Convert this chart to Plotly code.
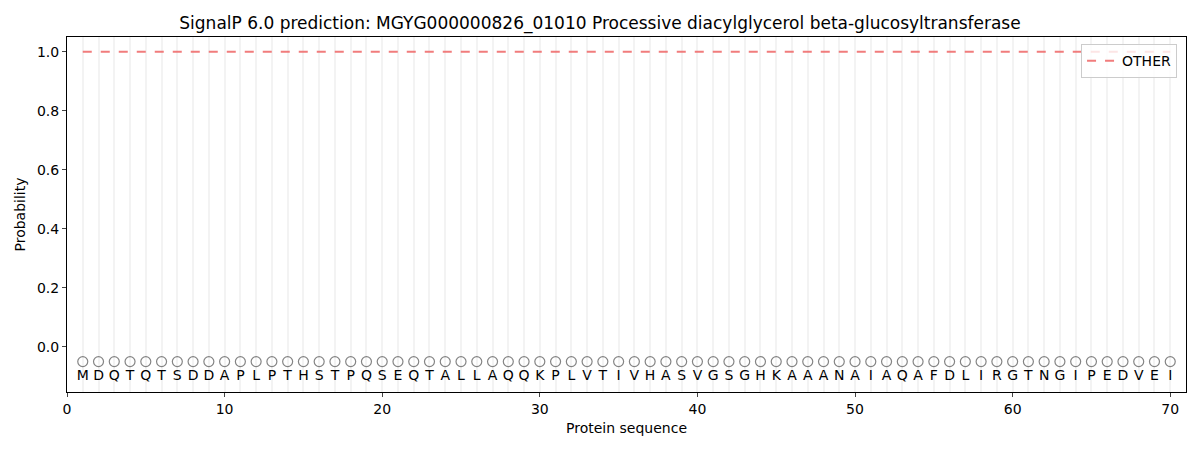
import plotly.graph_objects as go

sequence = list("MDQTQTSDDAPLPTHSTPQSEQTALLAQQKPLVTIVHASVGSGHKAAANAIAQAFDLIRGTNGIPEDVEI")
positions = list(range(1, len(sequence) + 1))
other_prob = [1.0] * len(sequence)
marker_y = [-0.05] * len(sequence)
letter_y = [-0.1] * len(sequence)

x_ticks = [0, 10, 20, 30, 40, 50, 60, 70]
y_ticks = [0.0, 0.2, 0.4, 0.6, 0.8, 1.0]

title = "SignalP 6.0 prediction: MGYG000000826_01010 Processive diacylglycerol beta-glucosyltransferase"

fig = go.Figure()

fig.add_trace(go.Scatter(
    x=positions, y=other_prob, mode="lines", name="OTHER",
    line=dict(color="rgba(240,110,110,0.9)", width=2, dash="dash"),
))
fig.add_trace(go.Scatter(
    x=positions, y=marker_y, mode="markers", showlegend=False,
    marker=dict(symbol="circle-open", size=10, color="rgba(110,110,110,0.85)", line=dict(width=1.2)),
))
fig.add_trace(go.Scatter(
    x=positions, y=letter_y, mode="text", text=sequence, showlegend=False,
    textfont=dict(family="DejaVu Sans", size=14, color="black"),
))

fig.update_layout(
    width=1200, height=450,
    margin=dict(l=67, r=14, t=37, b=58),
    paper_bgcolor="white", plot_bgcolor="white",
    font=dict(family="DejaVu Sans", size=14, color="black"),
    title=dict(text=title, x=0.5, xanchor="center", y=0.948, yanchor="middle",
               font=dict(size=17, color="black")),
    legend=dict(x=0.992, y=0.98, xanchor="right", yanchor="top",
                bgcolor="rgba(255,255,255,0.8)", bordercolor="#cccccc", borderwidth=1,
                font=dict(size=14)),
    showlegend=True,
)

fig.update_xaxes(
    range=[0, 71], tickmode="array", tickvals=x_ticks, ticks="outside", ticklen=4,
    showline=True, linecolor="black", mirror=True, linewidth=1, automargin=False,
    showgrid=True, gridcolor="#f3f3f3", gridwidth=2, zeroline=False,
    minor=dict(dtick=1, tick0=0, showgrid=True, gridcolor="#f3f3f3", gridwidth=2, ticks=""),
    title=dict(text="Protein sequence", font=dict(size=14), standoff=7),
)
fig.update_yaxes(
    range=[-0.153, 1.05], tickmode="array", tickvals=y_ticks, ticktext=[f"{v:.1f}" for v in y_ticks],
    ticks="outside", ticklen=4, automargin=False,
    showline=True, linecolor="black", mirror=True, linewidth=1,
    showgrid=False, zeroline=False,
    title=dict(text="Probability", font=dict(size=14), standoff=8),
)

fig.write_html("out.html", config={"displayModeBar": False},
               post_script="document.body.style.margin='0';")
